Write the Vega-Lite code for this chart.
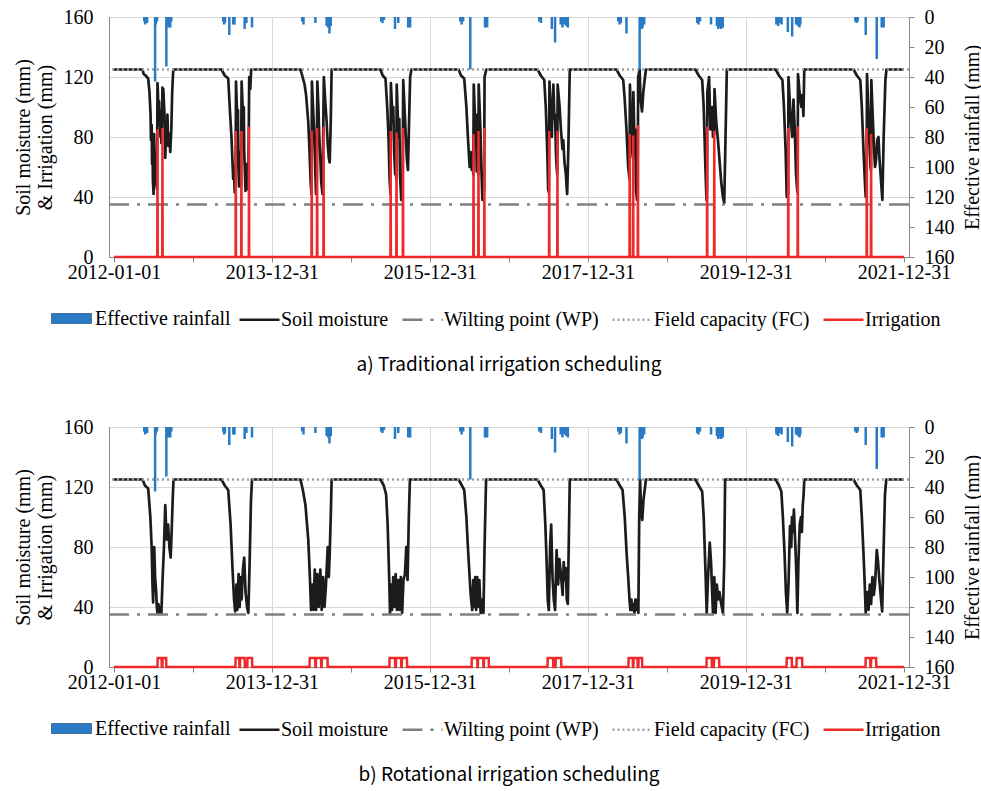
{
  "$schema": "https://vega.github.io/schema/vega-lite/v6.json",
  "background": "white",
  "padding": {"left": 12, "top": 6, "right": 0, "bottom": 0},
  "spacing": 40,
  "datasets": {
    "thr": [
      {"name": "Wilting point (WP)", "value": 35},
      {"name": "Field capacity (FC)", "value": 125}
    ],
    "rain": [
      {"date":"2012-05-20","rain":3},{"date":"2012-05-24","rain":5},{"date":"2012-05-28","rain":2},{"date":"2012-06-02","rain":4},{"date":"2012-07-09","rain":43},{"date":"2012-07-12","rain":5},{"date":"2012-07-18","rain":3},{"date":"2012-08-30","rain":33},{"date":"2012-09-04","rain":6},{"date":"2012-09-08","rain":7},{"date":"2012-09-13","rain":5},{"date":"2012-09-17","rain":7},{"date":"2012-09-22","rain":3},
      {"date":"2013-05-20","rain":3},{"date":"2013-05-24","rain":5},{"date":"2013-05-28","rain":4},{"date":"2013-06-17","rain":12},{"date":"2013-07-05","rain":5},{"date":"2013-07-11","rain":5},{"date":"2013-08-27","rain":8},{"date":"2013-09-04","rain":4},{"date":"2013-09-30","rain":7},
      {"date":"2014-05-20","rain":3},{"date":"2014-05-26","rain":5},{"date":"2014-07-20","rain":4},{"date":"2014-09-10","rain":6},{"date":"2014-09-17","rain":7},{"date":"2014-09-23","rain":11},{"date":"2014-09-29","rain":6},
      {"date":"2015-05-20","rain":3},{"date":"2015-05-26","rain":4},{"date":"2015-06-02","rain":2},{"date":"2015-07-23","rain":8},{"date":"2015-08-07","rain":4},{"date":"2015-09-22","rain":7},{"date":"2015-09-26","rain":6},{"date":"2015-10-01","rain":7},
      {"date":"2016-05-20","rain":3},{"date":"2016-05-26","rain":5},{"date":"2016-06-02","rain":3},{"date":"2016-07-05","rain":35},{"date":"2016-09-11","rain":7},{"date":"2016-09-16","rain":6},{"date":"2016-09-21","rain":7},
      {"date":"2017-05-20","rain":3},{"date":"2017-05-28","rain":4},{"date":"2017-07-17","rain":8},{"date":"2017-08-01","rain":17},{"date":"2017-08-27","rain":5},{"date":"2017-09-04","rain":7},{"date":"2017-09-13","rain":5},{"date":"2017-09-22","rain":6},{"date":"2017-09-29","rain":7},
      {"date":"2018-05-20","rain":3},{"date":"2018-05-26","rain":5},{"date":"2018-06-01","rain":4},{"date":"2018-06-27","rain":11},{"date":"2018-08-27","rain":35},{"date":"2018-08-30","rain":7},{"date":"2018-09-06","rain":8},{"date":"2018-09-10","rain":7},{"date":"2018-09-17","rain":5},
      {"date":"2019-05-20","rain":4},{"date":"2019-05-26","rain":5},{"date":"2019-06-02","rain":3},{"date":"2019-07-23","rain":5},{"date":"2019-08-19","rain":6},{"date":"2019-08-25","rain":8},{"date":"2019-09-01","rain":7},{"date":"2019-09-08","rain":8},{"date":"2019-09-15","rain":7},
      {"date":"2020-05-20","rain":5},{"date":"2020-05-28","rain":6},{"date":"2020-06-04","rain":4},{"date":"2020-06-13","rain":5},{"date":"2020-07-12","rain":10},{"date":"2020-08-01","rain":13},{"date":"2020-08-19","rain":5},{"date":"2020-08-28","rain":6},{"date":"2020-09-04","rain":7},{"date":"2020-09-08","rain":5},
      {"date":"2021-05-20","rain":3},{"date":"2021-05-26","rain":4},{"date":"2021-05-31","rain":3},{"date":"2021-07-07","rain":12},{"date":"2021-08-27","rain":28},{"date":"2021-09-19","rain":7},{"date":"2021-09-23","rain":6},{"date":"2021-09-28","rain":7}
    ],
    "smA": [
      {"date":"2012-01-01","sm":125},
      {"date":"2012-05-12","sm":125},{"date":"2012-05-17","sm":122},{"date":"2012-05-26","sm":121},{"date":"2012-06-07","sm":119},{"date":"2012-06-13","sm":110},{"date":"2012-06-18","sm":95},{"date":"2012-06-20","sm":78},{"date":"2012-06-23","sm":88},{"date":"2012-06-25","sm":62},{"date":"2012-06-27","sm":72},{"date":"2012-06-29","sm":50},{"date":"2012-07-02","sm":42},{"date":"2012-07-04","sm":82},{"date":"2012-07-06","sm":70},{"date":"2012-07-08","sm":58},{"date":"2012-07-11","sm":66},{"date":"2012-07-13","sm":50},{"date":"2012-07-18","sm":45},{"date":"2012-07-20","sm":116},{"date":"2012-07-22","sm":110},{"date":"2012-07-24","sm":95},{"date":"2012-07-27","sm":104},{"date":"2012-07-29","sm":88},{"date":"2012-07-31","sm":98},{"date":"2012-08-03","sm":80},{"date":"2012-08-05","sm":92},{"date":"2012-08-07","sm":76},{"date":"2012-08-09","sm":86},{"date":"2012-08-12","sm":113},{"date":"2012-08-14","sm":104},{"date":"2012-08-16","sm":112},{"date":"2012-08-21","sm":96},{"date":"2012-08-23","sm":84},{"date":"2012-08-25","sm":66},{"date":"2012-08-30","sm":90},{"date":"2012-09-01","sm":78},{"date":"2012-09-04","sm":95},{"date":"2012-09-08","sm":74},{"date":"2012-09-13","sm":82},{"date":"2012-09-17","sm":70},{"date":"2012-09-22","sm":85},{"date":"2012-09-26","sm":110},{"date":"2012-10-01","sm":125},
      {"date":"2013-05-12","sm":125},{"date":"2013-05-27","sm":121},{"date":"2013-06-12","sm":119},{"date":"2013-06-19","sm":100},{"date":"2013-06-27","sm":80},{"date":"2013-07-05","sm":52},{"date":"2013-07-08","sm":60},{"date":"2013-07-12","sm":43},{"date":"2013-07-16","sm":45},{"date":"2013-07-18","sm":117},{"date":"2013-07-22","sm":100},{"date":"2013-07-24","sm":90},{"date":"2013-07-27","sm":98},{"date":"2013-07-29","sm":60},{"date":"2013-08-01","sm":47},{"date":"2013-08-05","sm":70},{"date":"2013-08-07","sm":55},{"date":"2013-08-10","sm":48},{"date":"2013-08-13","sm":117},{"date":"2013-08-19","sm":95},{"date":"2013-08-23","sm":100},{"date":"2013-08-25","sm":70},{"date":"2013-08-31","sm":44},{"date":"2013-09-04","sm":62},{"date":"2013-09-07","sm":50},{"date":"2013-09-13","sm":45},{"date":"2013-09-17","sm":120},{"date":"2013-09-22","sm":112},{"date":"2013-09-26","sm":125},
      {"date":"2014-05-12","sm":125},{"date":"2014-05-20","sm":121},{"date":"2014-05-31","sm":115},{"date":"2014-06-07","sm":108},{"date":"2014-06-17","sm":90},{"date":"2014-06-23","sm":70},{"date":"2014-06-28","sm":50},{"date":"2014-07-02","sm":42},{"date":"2014-07-04","sm":117},{"date":"2014-07-09","sm":100},{"date":"2014-07-14","sm":85},{"date":"2014-07-17","sm":70},{"date":"2014-07-20","sm":55},{"date":"2014-07-23","sm":42},{"date":"2014-07-26","sm":48},{"date":"2014-07-29","sm":117},{"date":"2014-08-03","sm":100},{"date":"2014-08-07","sm":80},{"date":"2014-08-12","sm":65},{"date":"2014-08-16","sm":50},{"date":"2014-08-22","sm":42},{"date":"2014-08-28","sm":120},{"date":"2014-09-04","sm":103},{"date":"2014-09-10","sm":90},{"date":"2014-09-15","sm":75},{"date":"2014-09-20","sm":66},{"date":"2014-09-24","sm":63},{"date":"2014-09-29","sm":90},{"date":"2014-10-03","sm":125},
      {"date":"2015-05-17","sm":125},{"date":"2015-05-27","sm":121},{"date":"2015-06-09","sm":119},{"date":"2015-06-17","sm":100},{"date":"2015-06-23","sm":80},{"date":"2015-06-28","sm":52},{"date":"2015-07-02","sm":42},{"date":"2015-07-04","sm":116},{"date":"2015-07-12","sm":90},{"date":"2015-07-15","sm":100},{"date":"2015-07-19","sm":70},{"date":"2015-07-24","sm":55},{"date":"2015-07-27","sm":65},{"date":"2015-07-29","sm":52},{"date":"2015-07-31","sm":115},{"date":"2015-08-08","sm":80},{"date":"2015-08-12","sm":92},{"date":"2015-08-15","sm":55},{"date":"2015-08-21","sm":38},{"date":"2015-08-24","sm":50},{"date":"2015-08-27","sm":40},{"date":"2015-08-30","sm":118},{"date":"2015-09-08","sm":90},{"date":"2015-09-16","sm":65},{"date":"2015-09-21","sm":58},{"date":"2015-09-26","sm":90},{"date":"2015-10-01","sm":120},{"date":"2015-10-07","sm":125},
      {"date":"2016-05-12","sm":125},{"date":"2016-05-23","sm":121},{"date":"2016-06-07","sm":119},{"date":"2016-06-17","sm":100},{"date":"2016-06-24","sm":80},{"date":"2016-07-02","sm":60},{"date":"2016-07-07","sm":70},{"date":"2016-07-12","sm":58},{"date":"2016-07-17","sm":62},{"date":"2016-07-19","sm":55},{"date":"2016-07-21","sm":115},{"date":"2016-07-29","sm":85},{"date":"2016-07-31","sm":95},{"date":"2016-08-04","sm":57},{"date":"2016-08-09","sm":62},{"date":"2016-08-11","sm":55},{"date":"2016-08-13","sm":115},{"date":"2016-08-21","sm":85},{"date":"2016-08-25","sm":60},{"date":"2016-08-30","sm":38},{"date":"2016-09-04","sm":55},{"date":"2016-09-07","sm":45},{"date":"2016-09-09","sm":120},{"date":"2016-09-17","sm":125},
      {"date":"2017-05-12","sm":125},{"date":"2017-05-27","sm":121},{"date":"2017-06-12","sm":118},{"date":"2017-06-19","sm":100},{"date":"2017-06-26","sm":70},{"date":"2017-06-30","sm":45},{"date":"2017-07-03","sm":43},{"date":"2017-07-06","sm":117},{"date":"2017-07-14","sm":85},{"date":"2017-07-17","sm":80},{"date":"2017-07-20","sm":100},{"date":"2017-07-24","sm":115},{"date":"2017-07-29","sm":92},{"date":"2017-08-01","sm":95},{"date":"2017-08-05","sm":70},{"date":"2017-08-08","sm":60},{"date":"2017-08-11","sm":55},{"date":"2017-08-13","sm":115},{"date":"2017-08-22","sm":100},{"date":"2017-08-28","sm":85},{"date":"2017-09-04","sm":72},{"date":"2017-09-08","sm":78},{"date":"2017-09-13","sm":64},{"date":"2017-09-20","sm":55},{"date":"2017-09-24","sm":45},{"date":"2017-09-26","sm":42},{"date":"2017-10-01","sm":70},{"date":"2017-10-06","sm":110},{"date":"2017-10-08","sm":125},
      {"date":"2018-05-12","sm":125},{"date":"2018-05-27","sm":121},{"date":"2018-06-12","sm":118},{"date":"2018-06-19","sm":105},{"date":"2018-06-27","sm":85},{"date":"2018-07-05","sm":60},{"date":"2018-07-11","sm":52},{"date":"2018-07-13","sm":115},{"date":"2018-07-20","sm":85},{"date":"2018-07-24","sm":70},{"date":"2018-07-27","sm":66},{"date":"2018-07-29","sm":110},{"date":"2018-08-04","sm":70},{"date":"2018-08-07","sm":85},{"date":"2018-08-10","sm":45},{"date":"2018-08-15","sm":38},{"date":"2018-08-18","sm":40},{"date":"2018-08-20","sm":120},{"date":"2018-08-27","sm":125},{"date":"2018-08-31","sm":105},{"date":"2018-09-07","sm":97},{"date":"2018-09-13","sm":110},{"date":"2018-09-19","sm":118},{"date":"2018-09-25","sm":125},
      {"date":"2019-05-12","sm":125},{"date":"2019-05-27","sm":121},{"date":"2019-06-12","sm":118},{"date":"2019-06-19","sm":100},{"date":"2019-06-27","sm":60},{"date":"2019-07-02","sm":38},{"date":"2019-07-04","sm":40},{"date":"2019-07-06","sm":110},{"date":"2019-07-14","sm":120},{"date":"2019-07-20","sm":85},{"date":"2019-07-28","sm":100},{"date":"2019-08-01","sm":80},{"date":"2019-08-05","sm":90},{"date":"2019-08-06","sm":82},{"date":"2019-08-08","sm":112},{"date":"2019-08-16","sm":90},{"date":"2019-08-24","sm":78},{"date":"2019-08-31","sm":65},{"date":"2019-09-08","sm":50},{"date":"2019-09-16","sm":40},{"date":"2019-09-22","sm":36},{"date":"2019-09-28","sm":80},{"date":"2019-10-04","sm":125},
      {"date":"2020-05-17","sm":125},{"date":"2020-06-01","sm":121},{"date":"2020-06-17","sm":118},{"date":"2020-06-24","sm":100},{"date":"2020-07-02","sm":70},{"date":"2020-07-07","sm":40},{"date":"2020-07-11","sm":45},{"date":"2020-07-13","sm":42},{"date":"2020-07-15","sm":120},{"date":"2020-07-24","sm":95},{"date":"2020-08-01","sm":80},{"date":"2020-08-07","sm":105},{"date":"2020-08-13","sm":85},{"date":"2020-08-19","sm":55},{"date":"2020-08-24","sm":45},{"date":"2020-08-26","sm":43},{"date":"2020-08-28","sm":122},{"date":"2020-09-07","sm":105},{"date":"2020-09-13","sm":100},{"date":"2020-09-17","sm":108},{"date":"2020-09-22","sm":94},{"date":"2020-09-26","sm":125},
      {"date":"2021-05-12","sm":125},{"date":"2021-05-27","sm":121},{"date":"2021-06-12","sm":118},{"date":"2021-06-19","sm":100},{"date":"2021-06-27","sm":70},{"date":"2021-07-05","sm":45},{"date":"2021-07-07","sm":40},{"date":"2021-07-11","sm":42},{"date":"2021-07-13","sm":122},{"date":"2021-07-20","sm":95},{"date":"2021-07-26","sm":70},{"date":"2021-07-29","sm":60},{"date":"2021-07-31","sm":58},{"date":"2021-08-02","sm":118},{"date":"2021-08-08","sm":95},{"date":"2021-08-15","sm":70},{"date":"2021-08-19","sm":60},{"date":"2021-08-24","sm":65},{"date":"2021-08-29","sm":78},{"date":"2021-09-04","sm":80},{"date":"2021-09-09","sm":65},{"date":"2021-09-16","sm":50},{"date":"2021-09-22","sm":38},{"date":"2021-09-28","sm":80},{"date":"2021-10-06","sm":118},{"date":"2021-10-11","sm":125},{"date":"2021-12-31","sm":125}
    ],
    "irrA": [
      {"date":"2012-01-01","irr":0},
      {"date":"2012-07-19","irr":0},{"date":"2012-07-20","irr":85},{"date":"2012-07-21","irr":0},{"date":"2012-08-11","irr":0},{"date":"2012-08-12","irr":86},{"date":"2012-08-13","irr":0},
      {"date":"2013-07-16","irr":0},{"date":"2013-07-17","irr":84},{"date":"2013-07-18","irr":0},{"date":"2013-08-11","irr":0},{"date":"2013-08-12","irr":84},{"date":"2013-08-13","irr":0},{"date":"2013-09-15","irr":0},{"date":"2013-09-16","irr":87},{"date":"2013-09-17","irr":0},
      {"date":"2014-07-02","irr":0},{"date":"2014-07-03","irr":84},{"date":"2014-07-04","irr":0},{"date":"2014-07-27","irr":0},{"date":"2014-07-28","irr":86},{"date":"2014-07-29","irr":0},{"date":"2014-08-26","irr":0},{"date":"2014-08-27","irr":87},{"date":"2014-08-28","irr":0},
      {"date":"2015-07-02","irr":0},{"date":"2015-07-03","irr":84},{"date":"2015-07-04","irr":0},{"date":"2015-07-29","irr":0},{"date":"2015-07-30","irr":83},{"date":"2015-07-31","irr":0},{"date":"2015-08-28","irr":0},{"date":"2015-08-29","irr":86},{"date":"2015-08-30","irr":0},
      {"date":"2016-07-19","irr":0},{"date":"2016-07-20","irr":82},{"date":"2016-07-21","irr":0},{"date":"2016-08-11","irr":0},{"date":"2016-08-12","irr":84},{"date":"2016-08-13","irr":0},{"date":"2016-09-07","irr":0},{"date":"2016-09-08","irr":86},{"date":"2016-09-09","irr":0},
      {"date":"2017-07-04","irr":0},{"date":"2017-07-05","irr":84},{"date":"2017-07-06","irr":0},{"date":"2017-08-11","irr":0},{"date":"2017-08-12","irr":84},{"date":"2017-08-13","irr":0},
      {"date":"2018-07-11","irr":0},{"date":"2018-07-12","irr":82},{"date":"2018-07-13","irr":0},{"date":"2018-07-27","irr":0},{"date":"2018-07-28","irr":81},{"date":"2018-07-29","irr":0},{"date":"2018-08-18","irr":0},{"date":"2018-08-19","irr":88},{"date":"2018-08-20","irr":0},
      {"date":"2019-07-04","irr":0},{"date":"2019-07-05","irr":87},{"date":"2019-07-06","irr":0},{"date":"2019-08-06","irr":0},{"date":"2019-08-07","irr":84},{"date":"2019-08-08","irr":0},
      {"date":"2020-07-13","irr":0},{"date":"2020-07-14","irr":86},{"date":"2020-07-15","irr":0},{"date":"2020-08-26","irr":0},{"date":"2020-08-27","irr":87},{"date":"2020-08-28","irr":0},
      {"date":"2021-07-11","irr":0},{"date":"2021-07-12","irr":86},{"date":"2021-07-13","irr":0},{"date":"2021-07-31","irr":0},{"date":"2021-08-01","irr":82},{"date":"2021-08-02","irr":0},
      {"date":"2021-12-31","irr":0}
    ],
    "smB": [
      {"date":"2012-01-01","sm":125},
      {"date":"2012-05-12","sm":125},{"date":"2012-05-23","sm":121},{"date":"2012-06-07","sm":119},{"date":"2012-06-17","sm":100},{"date":"2012-06-23","sm":80},{"date":"2012-06-27","sm":55},{"date":"2012-06-30","sm":43},{"date":"2012-07-05","sm":80},{"date":"2012-07-09","sm":60},{"date":"2012-07-14","sm":50},{"date":"2012-07-17","sm":40},{"date":"2012-07-20","sm":36},{"date":"2012-07-24","sm":42},{"date":"2012-07-28","sm":38},{"date":"2012-08-01","sm":36},{"date":"2012-08-04","sm":40},{"date":"2012-08-07","sm":36},{"date":"2012-08-13","sm":60},{"date":"2012-08-19","sm":80},{"date":"2012-08-25","sm":108},{"date":"2012-08-31","sm":85},{"date":"2012-09-07","sm":95},{"date":"2012-09-13","sm":80},{"date":"2012-09-19","sm":73},{"date":"2012-09-23","sm":88},{"date":"2012-09-28","sm":110},{"date":"2012-10-02","sm":125},
      {"date":"2013-05-12","sm":125},{"date":"2013-05-27","sm":121},{"date":"2013-06-12","sm":118},{"date":"2013-06-23","sm":95},{"date":"2013-07-02","sm":65},{"date":"2013-07-09","sm":45},{"date":"2013-07-14","sm":37},{"date":"2013-07-20","sm":55},{"date":"2013-07-24","sm":38},{"date":"2013-07-30","sm":62},{"date":"2013-08-04","sm":40},{"date":"2013-08-08","sm":60},{"date":"2013-08-13","sm":45},{"date":"2013-08-19","sm":65},{"date":"2013-08-25","sm":73},{"date":"2013-08-31","sm":50},{"date":"2013-09-07","sm":40},{"date":"2013-09-13","sm":36},{"date":"2013-09-19","sm":70},{"date":"2013-09-25","sm":110},{"date":"2013-09-30","sm":125},
      {"date":"2014-05-12","sm":125},{"date":"2014-05-23","sm":118},{"date":"2014-06-04","sm":108},{"date":"2014-06-17","sm":85},{"date":"2014-06-24","sm":62},{"date":"2014-06-30","sm":38},{"date":"2014-07-06","sm":55},{"date":"2014-07-11","sm":38},{"date":"2014-07-17","sm":65},{"date":"2014-07-23","sm":38},{"date":"2014-07-29","sm":62},{"date":"2014-08-04","sm":40},{"date":"2014-08-12","sm":65},{"date":"2014-08-18","sm":38},{"date":"2014-08-25","sm":60},{"date":"2014-08-31","sm":40},{"date":"2014-09-07","sm":55},{"date":"2014-09-10","sm":65},{"date":"2014-09-15","sm":80},{"date":"2014-09-20","sm":60},{"date":"2014-09-24","sm":75},{"date":"2014-09-29","sm":100},{"date":"2014-10-03","sm":125},
      {"date":"2015-05-17","sm":125},{"date":"2015-06-01","sm":121},{"date":"2015-06-12","sm":115},{"date":"2015-06-19","sm":95},{"date":"2015-06-26","sm":60},{"date":"2015-06-30","sm":36},{"date":"2015-07-05","sm":55},{"date":"2015-07-09","sm":38},{"date":"2015-07-15","sm":60},{"date":"2015-07-20","sm":40},{"date":"2015-07-26","sm":62},{"date":"2015-08-01","sm":38},{"date":"2015-08-07","sm":58},{"date":"2015-08-13","sm":38},{"date":"2015-08-19","sm":60},{"date":"2015-08-25","sm":36},{"date":"2015-08-31","sm":58},{"date":"2015-09-07","sm":62},{"date":"2015-09-13","sm":80},{"date":"2015-09-19","sm":58},{"date":"2015-09-25","sm":100},{"date":"2015-09-30","sm":125},
      {"date":"2016-05-12","sm":125},{"date":"2016-05-27","sm":121},{"date":"2016-06-07","sm":118},{"date":"2016-06-17","sm":100},{"date":"2016-06-24","sm":80},{"date":"2016-07-02","sm":60},{"date":"2016-07-07","sm":48},{"date":"2016-07-14","sm":38},{"date":"2016-07-19","sm":58},{"date":"2016-07-23","sm":40},{"date":"2016-07-28","sm":60},{"date":"2016-08-01","sm":38},{"date":"2016-08-06","sm":60},{"date":"2016-08-10","sm":40},{"date":"2016-08-16","sm":58},{"date":"2016-08-22","sm":36},{"date":"2016-08-29","sm":45},{"date":"2016-09-04","sm":36},{"date":"2016-09-09","sm":80},{"date":"2016-09-16","sm":125},
      {"date":"2017-05-12","sm":125},{"date":"2017-05-27","sm":121},{"date":"2017-06-09","sm":118},{"date":"2017-06-17","sm":95},{"date":"2017-06-23","sm":70},{"date":"2017-06-28","sm":45},{"date":"2017-07-03","sm":38},{"date":"2017-07-09","sm":80},{"date":"2017-07-14","sm":95},{"date":"2017-07-20","sm":60},{"date":"2017-07-26","sm":45},{"date":"2017-08-01","sm":38},{"date":"2017-08-08","sm":78},{"date":"2017-08-15","sm":55},{"date":"2017-08-21","sm":72},{"date":"2017-08-29","sm":60},{"date":"2017-09-05","sm":48},{"date":"2017-09-10","sm":70},{"date":"2017-09-15","sm":58},{"date":"2017-09-20","sm":66},{"date":"2017-09-24","sm":45},{"date":"2017-09-29","sm":42},{"date":"2017-10-03","sm":80},{"date":"2017-10-08","sm":125},
      {"date":"2018-05-12","sm":125},{"date":"2018-05-27","sm":121},{"date":"2018-06-09","sm":118},{"date":"2018-06-19","sm":100},{"date":"2018-06-28","sm":75},{"date":"2018-07-05","sm":60},{"date":"2018-07-11","sm":45},{"date":"2018-07-15","sm":38},{"date":"2018-07-20","sm":45},{"date":"2018-07-24","sm":38},{"date":"2018-07-29","sm":42},{"date":"2018-08-03","sm":36},{"date":"2018-08-07","sm":45},{"date":"2018-08-12","sm":38},{"date":"2018-08-16","sm":45},{"date":"2018-08-21","sm":36},{"date":"2018-08-25","sm":100},{"date":"2018-08-29","sm":125},{"date":"2018-09-02","sm":105},{"date":"2018-09-08","sm":98},{"date":"2018-09-14","sm":112},{"date":"2018-09-21","sm":120},{"date":"2018-09-25","sm":125},
      {"date":"2019-05-12","sm":125},{"date":"2019-05-27","sm":121},{"date":"2019-06-12","sm":117},{"date":"2019-06-19","sm":100},{"date":"2019-06-27","sm":65},{"date":"2019-07-03","sm":36},{"date":"2019-07-09","sm":60},{"date":"2019-07-17","sm":83},{"date":"2019-07-23","sm":70},{"date":"2019-07-28","sm":50},{"date":"2019-08-01","sm":36},{"date":"2019-08-07","sm":60},{"date":"2019-08-13","sm":36},{"date":"2019-08-19","sm":55},{"date":"2019-08-25","sm":45},{"date":"2019-08-31","sm":50},{"date":"2019-09-08","sm":42},{"date":"2019-09-16","sm":36},{"date":"2019-09-22","sm":70},{"date":"2019-09-26","sm":125},
      {"date":"2020-05-17","sm":125},{"date":"2020-06-01","sm":121},{"date":"2020-06-12","sm":117},{"date":"2020-06-19","sm":100},{"date":"2020-06-27","sm":75},{"date":"2020-07-03","sm":50},{"date":"2020-07-09","sm":36},{"date":"2020-07-15","sm":55},{"date":"2020-07-22","sm":94},{"date":"2020-07-28","sm":80},{"date":"2020-07-31","sm":100},{"date":"2020-08-05","sm":90},{"date":"2020-08-09","sm":105},{"date":"2020-08-16","sm":80},{"date":"2020-08-21","sm":60},{"date":"2020-08-25","sm":36},{"date":"2020-08-30","sm":70},{"date":"2020-09-05","sm":95},{"date":"2020-09-11","sm":100},{"date":"2020-09-15","sm":90},{"date":"2020-09-19","sm":108},{"date":"2020-09-23","sm":115},{"date":"2020-09-26","sm":125},
      {"date":"2021-05-12","sm":125},{"date":"2021-05-27","sm":121},{"date":"2021-06-12","sm":118},{"date":"2021-06-19","sm":100},{"date":"2021-06-27","sm":75},{"date":"2021-07-02","sm":57},{"date":"2021-07-07","sm":36},{"date":"2021-07-14","sm":50},{"date":"2021-07-20","sm":38},{"date":"2021-07-26","sm":55},{"date":"2021-08-01","sm":42},{"date":"2021-08-07","sm":60},{"date":"2021-08-13","sm":48},{"date":"2021-08-19","sm":55},{"date":"2021-08-27","sm":78},{"date":"2021-09-02","sm":70},{"date":"2021-09-08","sm":58},{"date":"2021-09-14","sm":48},{"date":"2021-09-21","sm":37},{"date":"2021-09-28","sm":80},{"date":"2021-10-04","sm":115},{"date":"2021-10-10","sm":125},{"date":"2021-12-31","sm":125}
    ],
    "irrB": [
      {"date":"2012-01-01","irr":0},
      {"date":"2012-07-20","irr":0},{"date":"2012-07-21","irr":6},{"date":"2012-08-08","irr":6},{"date":"2012-08-09","irr":0},{"date":"2012-08-12","irr":0},{"date":"2012-08-13","irr":6},{"date":"2012-08-29","irr":6},{"date":"2012-08-30","irr":0},
      {"date":"2013-07-15","irr":0},{"date":"2013-07-16","irr":6},{"date":"2013-08-02","irr":6},{"date":"2013-08-03","irr":0},{"date":"2013-08-05","irr":0},{"date":"2013-08-06","irr":6},{"date":"2013-08-27","irr":6},{"date":"2013-08-28","irr":0},{"date":"2013-09-08","irr":0},{"date":"2013-09-09","irr":6},{"date":"2013-09-30","irr":6},{"date":"2013-10-01","irr":0},
      {"date":"2014-06-23","irr":0},{"date":"2014-06-24","irr":6},{"date":"2014-07-19","irr":6},{"date":"2014-07-20","irr":0},{"date":"2014-07-22","irr":0},{"date":"2014-07-23","irr":6},{"date":"2014-08-15","irr":6},{"date":"2014-08-16","irr":0},{"date":"2014-08-18","irr":0},{"date":"2014-08-19","irr":6},{"date":"2014-09-14","irr":6},{"date":"2014-09-15","irr":0},
      {"date":"2015-06-27","irr":0},{"date":"2015-06-28","irr":6},{"date":"2015-07-23","irr":6},{"date":"2015-07-24","irr":0},{"date":"2015-07-27","irr":0},{"date":"2015-07-28","irr":6},{"date":"2015-08-20","irr":6},{"date":"2015-08-21","irr":0},{"date":"2015-08-23","irr":0},{"date":"2015-08-24","irr":6},{"date":"2015-09-16","irr":6},{"date":"2015-09-17","irr":0},
      {"date":"2016-07-11","irr":0},{"date":"2016-07-12","irr":6},{"date":"2016-08-06","irr":6},{"date":"2016-08-07","irr":0},{"date":"2016-08-09","irr":0},{"date":"2016-08-10","irr":6},{"date":"2016-09-03","irr":6},{"date":"2016-09-04","irr":0},{"date":"2016-09-06","irr":0},{"date":"2016-09-07","irr":6},{"date":"2016-09-28","irr":6},{"date":"2016-09-29","irr":0},
      {"date":"2017-06-27","irr":0},{"date":"2017-06-28","irr":6},{"date":"2017-07-23","irr":6},{"date":"2017-07-24","irr":0},{"date":"2017-08-03","irr":0},{"date":"2017-08-04","irr":6},{"date":"2017-08-29","irr":6},{"date":"2017-08-30","irr":0},
      {"date":"2018-07-06","irr":0},{"date":"2018-07-07","irr":6},{"date":"2018-07-26","irr":6},{"date":"2018-07-27","irr":0},{"date":"2018-07-29","irr":0},{"date":"2018-07-30","irr":6},{"date":"2018-08-17","irr":6},{"date":"2018-08-18","irr":0},{"date":"2018-08-21","irr":0},{"date":"2018-08-22","irr":6},{"date":"2018-09-07","irr":6},{"date":"2018-09-08","irr":0},
      {"date":"2019-07-02","irr":0},{"date":"2019-07-03","irr":6},{"date":"2019-07-26","irr":6},{"date":"2019-07-27","irr":0},{"date":"2019-08-05","irr":0},{"date":"2019-08-06","irr":6},{"date":"2019-08-29","irr":6},{"date":"2019-08-30","irr":0},
      {"date":"2020-07-06","irr":0},{"date":"2020-07-07","irr":6},{"date":"2020-07-30","irr":6},{"date":"2020-07-31","irr":0},{"date":"2020-08-21","irr":0},{"date":"2020-08-22","irr":6},{"date":"2020-09-16","irr":6},{"date":"2020-09-17","irr":0},
      {"date":"2021-07-06","irr":0},{"date":"2021-07-07","irr":6},{"date":"2021-07-28","irr":6},{"date":"2021-07-29","irr":0},{"date":"2021-07-31","irr":0},{"date":"2021-08-01","irr":6},{"date":"2021-08-24","irr":6},{"date":"2021-08-25","irr":0},
      {"date":"2021-12-31","irr":0}
    ]
  },
  "resolve": {"scale": {"color": "independent", "fill": "independent", "strokeDash": "independent"}, "legend": {"color": "independent", "fill": "independent"}},
  "vconcat": [
    {
      "width": 800, "height": 240,
      "title": {"text": "a) Traditional irrigation scheduling", "orient": "bottom", "offset": 26, "font": "Noto Sans CJK KR", "fontSize": 19, "fontWeight": "normal", "color": "#000"},
      "resolve": {"scale": {"y": "independent"}},
      "layer": [
        {
          "layer": [
            {
              "data": {"name": "smA"},
              "mark": {"type": "line", "strokeWidth": 2.7, "strokeJoin": "round"},
              "encoding": {
                "x": {"field": "date", "type": "temporal",
                  "scale": {"type": "utc", "nice": false, "domain": [{"year": 2012, "month": 1, "date": 1, "utc": true}, {"year": 2021, "month": 12, "date": 31, "utc": true}]},
                  "axis": {"title": null, "labelFont": "Liberation Serif, serif", "labelFontSize": 20, "labelColor": "#000000", "values": [{"year":2012,"month":1,"date":1,"utc":true},{"year":2012,"month":12,"date":31,"utc":true},{"year":2013,"month":12,"date":31,"utc":true},{"year":2014,"month":12,"date":31,"utc":true},{"year":2015,"month":12,"date":31,"utc":true},{"year":2016,"month":12,"date":31,"utc":true},{"year":2017,"month":12,"date":31,"utc":true},{"year":2018,"month":12,"date":31,"utc":true},{"year":2019,"month":12,"date":31,"utc":true},{"year":2020,"month":12,"date":31,"utc":true},{"year":2021,"month":12,"date":31,"utc":true}],
                    "labelExpr": "(utcmonth(datum.value) === 0 || utcyear(datum.value) % 2 === 1) ? utcFormat(datum.value, '%Y-%m-%d') : ''",
                    "labelOverlap": false, "labelFlush": false, "tickSize": 5, "labelPadding": 0,
                    "encode": {"labels": {"update": {"font": {"value": "Liberation Serif, serif"}}}},
                    "grid": true, "gridOpacity": {"condition": {"test": "utcyear(datum.value) % 2 === 1 && utcyear(datum.value) < 2021", "value": 1}, "value": 0}}},
                "y": {"field": "sm", "type": "quantitative", "scale": {"domain": [0, 160], "nice": false},
                  "axis": {"orient": "left", "labelFont": "Liberation Serif, serif", "labelFontSize": 20, "labelColor": "#000000", "titleFont": "Liberation Serif, serif", "titleFontSize": 20, "titleFontWeight": "normal", "titleColor": "#000000", "values": [0,20,40,60,80,100,120,140,160], "grid": true, "ticks": false, "labelPadding": 16, "title": ["Soil moisture  (mm)", "& Irrigation (mm)"], "titleLineHeight": 22, "titlePadding": 8,
                    "encode": {"labels": {"update": {"font": {"value": "Liberation Serif, serif"}}}, "title": {"update": {"font": {"value": "Liberation Serif, serif"}}}}}},
                "color": {"datum": "Soil moisture", "type": "nominal"}
              }
            },
            {
              "data": {"name": "thr"},
              "mark": {"type": "rule", "strokeWidth": 2.5},
              "encoding": {
                "y": {"field": "value", "type": "quantitative", "scale": {"domain": [0, 160], "nice": false}},
                "color": {"field": "name", "type": "nominal",
                  "scale": {"domain": ["Soil moisture", "Wilting point (WP)", "Field capacity (FC)", "Irrigation"], "range": ["#1c1c1c", "#808080", "#a0a0a0", "#ee2a2a"]},
                  "legend": {"orient": "none", "legendX": 129, "legendY": 281, "direction": "horizontal", "columns": 4, "title": null, "symbolType": "stroke", "symbolSize": 1600, "symbolStrokeWidth": 2.5, "labelFont": "Liberation Serif, serif", "labelFontSize": 20, "labelColor": "#000", "labelOffset": 0, "columnPadding": 8,
                    "encode": {"symbols": {"update": {
                      "strokeDash": {"signal": "datum.value === 'Wilting point (WP)' ? [20,8,3,8] : datum.value === 'Field capacity (FC)' ? [2,3] : []"},
                      "opacity": {"value": 1}
                    }}}}},
                "strokeDash": {"field": "name", "type": "nominal", "scale": {"domain": ["Wilting point (WP)", "Field capacity (FC)"], "range": [[20, 8, 3, 8], [2, 3]]}, "legend": null}
              }
            },
            {
              "data": {"name": "irrA"},
              "mark": {"type": "line", "strokeWidth": 2.5, "strokeJoin": "bevel"},
              "encoding": {
                "x": {"field": "date", "type": "temporal", "scale": {"type": "utc", "nice": false, "domain": [{"year": 2012, "month": 1, "date": 1, "utc": true}, {"year": 2021, "month": 12, "date": 31, "utc": true}]}},
                "y": {"field": "irr", "type": "quantitative", "scale": {"domain": [0, 160], "nice": false}},
                "color": {"datum": "Irrigation", "type": "nominal"}
              }
            }
          ]
        },
        {
          "data": {"name": "rain"},
          "mark": {"type": "bar", "size": 2.5},
          "encoding": {
            "x": {"field": "date", "type": "temporal", "scale": {"type": "utc", "nice": false, "domain": [{"year": 2012, "month": 1, "date": 1, "utc": true}, {"year": 2021, "month": 12, "date": 31, "utc": true}]}},
            "y": {"field": "rain", "type": "quantitative", "scale": {"domain": [0, 160], "reverse": true, "nice": false},
              "axis": {"orient": "right", "labelFont": "Liberation Serif, serif", "labelFontSize": 20, "labelColor": "#000000", "titleFont": "Liberation Serif, serif", "titleFontSize": 20, "titleFontWeight": "normal", "titleColor": "#000000", "values": [0,20,40,60,80,100,120,140,160], "grid": false, "tickSize": 5, "labelPadding": 10, "title": "Effective rainfall (mm)", "titleAngle": -90, "titleBaseline": "top", "titlePadding": 8,
                "encode": {"labels": {"update": {"font": {"value": "Liberation Serif, serif"}}}, "title": {"update": {"font": {"value": "Liberation Serif, serif"}}}}}},
            "fill": {"datum": "Effective rainfall", "type": "nominal",
              "scale": {"domain": ["Effective rainfall"], "range": ["#2a7bc4"]},
              "legend": {"orient": "none", "legendX": -58, "legendY": 281, "direction": "horizontal", "title": null, "symbolType": "M-1,-0.25H1V0.25H-1Z", "symbolSize": 1600, "labelFont": "Liberation Serif, serif", "labelFontSize": 20, "labelColor": "#000", "labelOffset": 3,
                "encode": {"symbols": {"update": {"fill": {"value": "#5b9bd5"}, "stroke": {"value": "#41719c"}, "strokeWidth": {"value": 1}, "opacity": {"value": 1}}}}}}
          }
        }
      ]
    },
    {
      "width": 800, "height": 240,
      "title": {"text": "b) Rotational irrigation scheduling", "orient": "bottom", "offset": 26, "font": "Noto Sans CJK KR", "fontSize": 19, "fontWeight": "normal", "color": "#000"},
      "resolve": {"scale": {"y": "independent"}},
      "layer": [
        {
          "layer": [
            {
              "data": {"name": "smB"},
              "mark": {"type": "line", "strokeWidth": 2.7, "strokeJoin": "round"},
              "encoding": {
                "x": {"field": "date", "type": "temporal",
                  "scale": {"type": "utc", "nice": false, "domain": [{"year": 2012, "month": 1, "date": 1, "utc": true}, {"year": 2021, "month": 12, "date": 31, "utc": true}]},
                  "axis": {"title": null, "labelFont": "Liberation Serif, serif", "labelFontSize": 20, "labelColor": "#000000", "values": [{"year":2012,"month":1,"date":1,"utc":true},{"year":2012,"month":12,"date":31,"utc":true},{"year":2013,"month":12,"date":31,"utc":true},{"year":2014,"month":12,"date":31,"utc":true},{"year":2015,"month":12,"date":31,"utc":true},{"year":2016,"month":12,"date":31,"utc":true},{"year":2017,"month":12,"date":31,"utc":true},{"year":2018,"month":12,"date":31,"utc":true},{"year":2019,"month":12,"date":31,"utc":true},{"year":2020,"month":12,"date":31,"utc":true},{"year":2021,"month":12,"date":31,"utc":true}],
                    "labelExpr": "(utcmonth(datum.value) === 0 || utcyear(datum.value) % 2 === 1) ? utcFormat(datum.value, '%Y-%m-%d') : ''",
                    "labelOverlap": false, "labelFlush": false, "tickSize": 5, "labelPadding": 0,
                    "encode": {"labels": {"update": {"font": {"value": "Liberation Serif, serif"}}}},
                    "grid": true, "gridOpacity": {"condition": {"test": "utcyear(datum.value) % 2 === 1 && utcyear(datum.value) < 2021", "value": 1}, "value": 0}}},
                "y": {"field": "sm", "type": "quantitative", "scale": {"domain": [0, 160], "nice": false},
                  "axis": {"orient": "left", "labelFont": "Liberation Serif, serif", "labelFontSize": 20, "labelColor": "#000000", "titleFont": "Liberation Serif, serif", "titleFontSize": 20, "titleFontWeight": "normal", "titleColor": "#000000", "values": [0,20,40,60,80,100,120,140,160], "grid": true, "ticks": false, "labelPadding": 16, "title": ["Soil moisture  (mm)", "& Irrigation (mm)"], "titleLineHeight": 22, "titlePadding": 8,
                    "encode": {"labels": {"update": {"font": {"value": "Liberation Serif, serif"}}}, "title": {"update": {"font": {"value": "Liberation Serif, serif"}}}}}},
                "color": {"datum": "Soil moisture", "type": "nominal"}
              }
            },
            {
              "data": {"name": "thr"},
              "mark": {"type": "rule", "strokeWidth": 2.5},
              "encoding": {
                "y": {"field": "value", "type": "quantitative", "scale": {"domain": [0, 160], "nice": false}},
                "color": {"field": "name", "type": "nominal",
                  "scale": {"domain": ["Soil moisture", "Wilting point (WP)", "Field capacity (FC)", "Irrigation"], "range": ["#1c1c1c", "#808080", "#a0a0a0", "#ee2a2a"]},
                  "legend": {"orient": "none", "legendX": 129, "legendY": 281, "direction": "horizontal", "columns": 4, "title": null, "symbolType": "stroke", "symbolSize": 1600, "symbolStrokeWidth": 2.5, "labelFont": "Liberation Serif, serif", "labelFontSize": 20, "labelColor": "#000", "labelOffset": 0, "columnPadding": 8,
                    "encode": {"symbols": {"update": {
                      "strokeDash": {"signal": "datum.value === 'Wilting point (WP)' ? [20,8,3,8] : datum.value === 'Field capacity (FC)' ? [2,3] : []"},
                      "opacity": {"value": 1}
                    }}}}},
                "strokeDash": {"field": "name", "type": "nominal", "scale": {"domain": ["Wilting point (WP)", "Field capacity (FC)"], "range": [[20, 8, 3, 8], [2, 3]]}, "legend": null}
              }
            },
            {
              "data": {"name": "irrB"},
              "mark": {"type": "line", "strokeWidth": 2.5, "strokeJoin": "miter"},
              "encoding": {
                "x": {"field": "date", "type": "temporal", "scale": {"type": "utc", "nice": false, "domain": [{"year": 2012, "month": 1, "date": 1, "utc": true}, {"year": 2021, "month": 12, "date": 31, "utc": true}]}},
                "y": {"field": "irr", "type": "quantitative", "scale": {"domain": [0, 160], "nice": false}},
                "color": {"datum": "Irrigation", "type": "nominal"}
              }
            }
          ]
        },
        {
          "data": {"name": "rain"},
          "mark": {"type": "bar", "size": 2.5},
          "encoding": {
            "x": {"field": "date", "type": "temporal", "scale": {"type": "utc", "nice": false, "domain": [{"year": 2012, "month": 1, "date": 1, "utc": true}, {"year": 2021, "month": 12, "date": 31, "utc": true}]}},
            "y": {"field": "rain", "type": "quantitative", "scale": {"domain": [0, 160], "reverse": true, "nice": false},
              "axis": {"orient": "right", "labelFont": "Liberation Serif, serif", "labelFontSize": 20, "labelColor": "#000000", "titleFont": "Liberation Serif, serif", "titleFontSize": 20, "titleFontWeight": "normal", "titleColor": "#000000", "values": [0,20,40,60,80,100,120,140,160], "grid": false, "tickSize": 5, "labelPadding": 10, "title": "Effective rainfall (mm)", "titleAngle": -90, "titleBaseline": "top", "titlePadding": 8,
                "encode": {"labels": {"update": {"font": {"value": "Liberation Serif, serif"}}}, "title": {"update": {"font": {"value": "Liberation Serif, serif"}}}}}},
            "fill": {"datum": "Effective rainfall", "type": "nominal",
              "scale": {"domain": ["Effective rainfall"], "range": ["#2a7bc4"]},
              "legend": {"orient": "none", "legendX": -58, "legendY": 281, "direction": "horizontal", "title": null, "symbolType": "M-1,-0.25H1V0.25H-1Z", "symbolSize": 1600, "labelFont": "Liberation Serif, serif", "labelFontSize": 20, "labelColor": "#000", "labelOffset": 3,
                "encode": {"symbols": {"update": {"fill": {"value": "#5b9bd5"}, "stroke": {"value": "#41719c"}, "strokeWidth": {"value": 1}, "opacity": {"value": 1}}}}}}
          }
        }
      ]
    }
  ],
  "config": {
    "view": {"stroke": "#888888"},
    "axis": {"domainColor": "#888888", "tickColor": "#888888", "gridColor": "#d9d9d9", "gridWidth": 1}
  }
}
